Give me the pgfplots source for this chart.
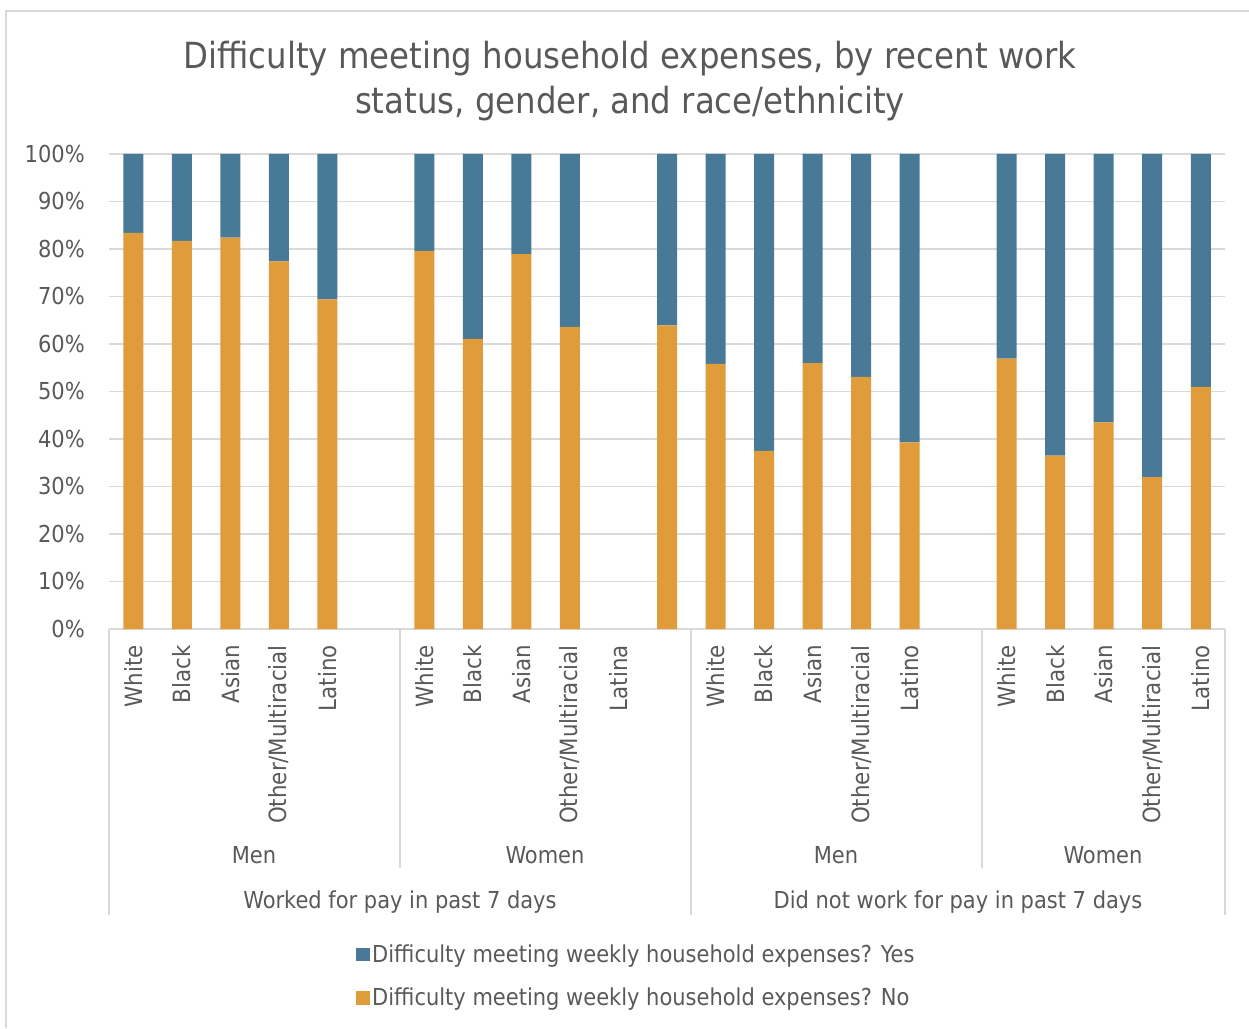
\documentclass[border=0pt]{standalone}
\usepackage{pgfplots}
\pgfplotsset{compat=1.18}
\usepackage{fontspec}
\setmainfont{DejaVu Sans Condensed}
\definecolor{cblue}{HTML}{487A98}
\definecolor{corange}{HTML}{E09B3B}
\definecolor{ctext}{HTML}{595959}
\definecolor{cgrid}{HTML}{D9D9D9}
\begin{document}
\begin{tikzpicture}
\begin{axis}[
  scale only axis,
  width=837pt, height=356.25pt,
  ybar stacked,
  bar width=15pt,
  xmin=-0.5, xmax=22.5,
  ymin=0, ymax=100,
  xtick={0,1,2,3,4,6,7,8,9,10,12,13,14,15,16,18,19,20,21,22},
  xticklabels={White,Black,Asian,Other/Multiracial,Latino,White,Black,Asian,Other/Multiracial,Latina,White,Black,Asian,Other/Multiracial,Latino,White,Black,Asian,Other/Multiracial,Latino},
  xticklabel style={rotate=90, anchor=east, font=\fontsize{17.8}{19}\selectfont, text=ctext, inner sep=0pt},
  xticklabel shift=12pt,
  major x tick style={draw=none},
  ytick={0,10,...,100},
  yticklabels={0\%,10\%,20\%,30\%,40\%,50\%,60\%,70\%,80\%,90\%,100\%},
  yticklabel style={font=\fontsize{17.5}{19}\selectfont, text=ctext, inner sep=0pt},
  yticklabel shift=18pt,
  major y tick style={draw=none},
  ymajorgrids,
  grid style={cgrid, line width=1.2pt},
  axis lines*=left,
  y axis line style={draw=none},
  x axis line style={cgrid, line width=1.2pt, -},
  legend style={at={(0.2177,-0.652)}, anchor=north west, draw=none, fill=none,
    font=\fontsize{17.5}{19}\selectfont, text=ctext, row sep=14pt,
    /tikz/every even column/.append style={column sep=0pt}},
  legend cell align=left,
  reverse legend,
  clip=false,
]
\addplot[fill=corange, draw=none, legend image code/.code={\fill[corange] (0pt,-5pt) rectangle (10pt,5pt);}] coordinates {
 (0,83.4) (1,81.7) (2,82.4) (3,77.4) (4,69.4)
 (6,79.6) (7,61.1) (8,78.9) (9,63.6) (11,63.9)
 (12,55.8) (13,37.5) (14,56.0) (15,53.1) (16,39.3)
 (18,56.9) (19,36.5) (20,43.5) (21,32.0) (22,51.0)};
\addlegendentry{Difficulty meeting weekly household expenses? No}
\addplot[fill=cblue, draw=none, legend image code/.code={\fill[cblue] (0pt,-5pt) rectangle (10pt,5pt);}] coordinates {
 (0,16.6) (1,18.3) (2,17.6) (3,22.6) (4,30.6)
 (6,20.4) (7,38.9) (8,21.1) (9,36.4) (11,36.1)
 (12,44.2) (13,62.5) (14,44.0) (15,46.9) (16,60.7)
 (18,43.1) (19,63.5) (20,56.5) (21,68.0) (22,49.0)};
\addlegendentry{Difficulty meeting weekly household expenses? Yes}
\end{axis}
\begin{scope}[x=0.75pt, y=-0.75pt, shift={(-109*0.75pt,629*0.75pt)}]
  \useasboundingbox (0,0) rectangle (1249,1028);
  \draw[cgrid, line width=1.5pt] (6,1028) -- (6,11) -- (1249,11);
  \draw[cgrid, line width=1.2pt] (109,629) -- (109,915);
  \draw[cgrid, line width=1.2pt] (691,629) -- (691,915);
  \draw[cgrid, line width=1.2pt] (1225,629) -- (1225,915);
  \draw[cgrid, line width=1.2pt] (400,629) -- (400,868);
  \draw[cgrid, line width=1.2pt] (982,629) -- (982,868);
  \begin{scope}[every node/.style={text=ctext, font=\fontsize{17.5}{19}\selectfont}]
    \node at (254,855) {Men};
    \node at (545,855) {Women};
    \node at (836,855) {Men};
    \node at (1103,855) {Women};
    \node at (400,902) {Worked for pay in past 7 days};
    \node at (958,902) {Did not work for pay in past 7 days};
  \end{scope}
  \node[text=ctext, font=\fontsize{27}{34}\selectfont, align=center] at (630,81)
    {Difficulty meeting household expenses, by recent work\\status, gender, and race/ethnicity};
\end{scope}
\end{tikzpicture}
\end{document}
